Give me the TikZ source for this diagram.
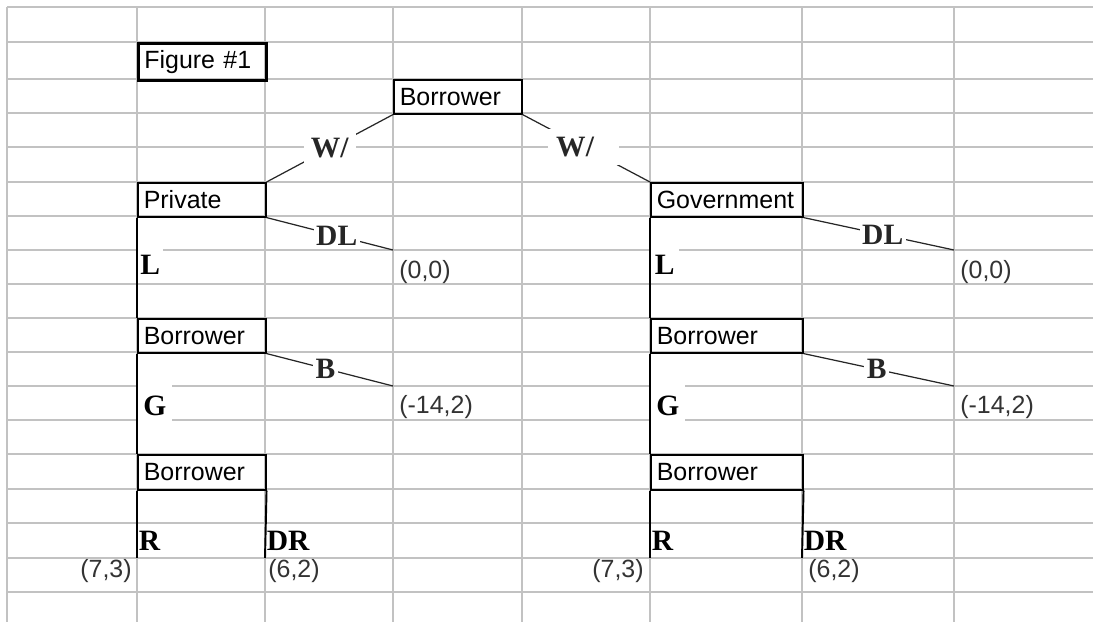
\documentclass[tikz,border=0pt]{standalone}
\usepackage{fontspec}
\setmainfont{Liberation Sans}
\newfontfamily\treefont{Liberation Serif}
\begin{document}
\begin{tikzpicture}[x=0.02cm, y=-0.02cm,
  every node/.style={font=\fontsize{14.2}{17}\selectfont},
  grid/.style={black!24, line width=0.75pt},
  cell/.style={draw, line width=0.9pt, anchor=north west, minimum height=0.68cm, inner xsep=0.12cm, text width=2.32cm, align=left},
  stem/.style={line width=1.1pt},
  branch/.style={black!85, line width=0.7pt},
  act/.style={fill=white, inner sep=0.05cm, font=\treefont\bfseries\fontsize{16.8}{19}\selectfont},
  move/.style={anchor=base west, inner xsep=0.03cm, font=\treefont\bfseries\fontsize{16.8}{19}\selectfont},
  pay/.style={inner sep=0pt, text=black!80}]
\useasboundingbox (0,0) rectangle (1093,622);
% spreadsheet grid
\foreach \y in {7,42,79,113,147,182,216,250,284,318,352,386,420,454,489,523,558,592}
  \draw[grid] (7,\y) -- (1093,\y);
\foreach \x in {7,137,265,393,522,650,802,954}
  \draw[grid] (\x,7) -- (\x,622);
% labels of the vertical branches
\node[move, fill=white, inner xsep=0.06cm, inner ysep=0.12cm] (pl) at (137,274) {L};
\node[move, fill=white, inner xsep=0.12cm, inner ysep=0.2cm] (pg) at (137,415) {G};
\node[move] (pr) at (137,550) {R};
\node[move] (pdr) at (265,550) {DR};
\node[move, fill=white, inner xsep=0.09cm, inner ysep=0.12cm] (gl) at (650,274) {L};
\node[move, fill=white, inner xsep=0.12cm, inner ysep=0.2cm] (gg) at (650,415) {G};
\node[move] (gr) at (650,550) {R};
\node[move] (gdr) at (802,550) {DR};
% boxes
\node[cell, line width=1.6pt, minimum height=0.74cm] (fig) at (137,42) {Figure \#1};
\node[cell] (top) at (393,79) {Borrower};
\node[cell] (priv) at (137,182) {Private};
\node[cell, text width=2.8cm] (gov) at (650,182) {Government};
\node[cell] (pbor) at (137,318) {Borrower};
\node[cell, text width=2.8cm] (gbor) at (650,318) {Borrower};
\node[cell, minimum height=0.7cm] (pbor2) at (137,454) {Borrower};
\node[cell, text width=2.8cm, minimum height=0.7cm] (gbor2) at (650,454) {Borrower};
\coordinate (pend) at (137,558);
\coordinate (pdend) at (265,558);
\coordinate (gend) at (650,558);
\coordinate (gdend) at (802,558);
\coordinate (pdl) at (393,250);
\coordinate (pb) at (393,386);
\coordinate (gdl) at (954,250);
\coordinate (gb) at (954,386);
% tree
\draw[stem] (priv.south west) -- (pbor.north west);
\draw[stem] (pbor.south west) -- (pbor2.north west);
\draw[stem] (pbor2.south west) -- (pend);
\draw[stem] (pbor2.south east) -- (pdend);
\draw[stem] (gov.south west) -- (gbor.north west);
\draw[stem] (gbor.south west) -- (gbor2.north west);
\draw[stem] (gbor2.south west) -- (gend);
\draw[stem] (gbor2.south east) -- (gdend);
\draw[branch] (top.south west) -- node[act, pos=0.5, inner xsep=0.14cm, inner ysep=0.16cm] (wp) {W/} (priv.north east);
\draw[branch] (top.south east) -- node[act, pos=0.48, inner xsep=0.16cm, inner ysep=0.16cm, text width=1.1cm, align=left] (wg) {W/} (gov.north west);
\draw[branch] (priv.south east) -- node[act, pos=0.555] (pdlab) {DL} (pdl);
\draw[branch] (pbor.south east) -- node[act, pos=0.465] (pblab) {B} (pb);
\draw[branch] (gov.south east) -- node[act, pos=0.526] (gdlab) {DL} (gdl);
\draw[branch] (gbor.south east) -- node[act, pos=0.487] (gblab) {B} (gb);
% payoffs
\node[pay, anchor=base west] (ppay1) at (399,278) {(0,0)};
\node[pay, anchor=base west] (ppay2) at (399,413) {(-14,2)};
\node[pay, anchor=base east] (ppay3) at (132,577) {(7,3)};
\node[pay, anchor=base west] (ppay4) at (268,577) {(6,2)};
\node[pay, anchor=base west] (gpay1) at (960,278) {(0,0)};
\node[pay, anchor=base west] (gpay2) at (960,413) {(-14,2)};
\node[pay, anchor=base east] (gpay3) at (644,577) {(7,3)};
\node[pay, anchor=base west] (gpay4) at (808,577) {(6,2)};
\end{tikzpicture}
\end{document}
